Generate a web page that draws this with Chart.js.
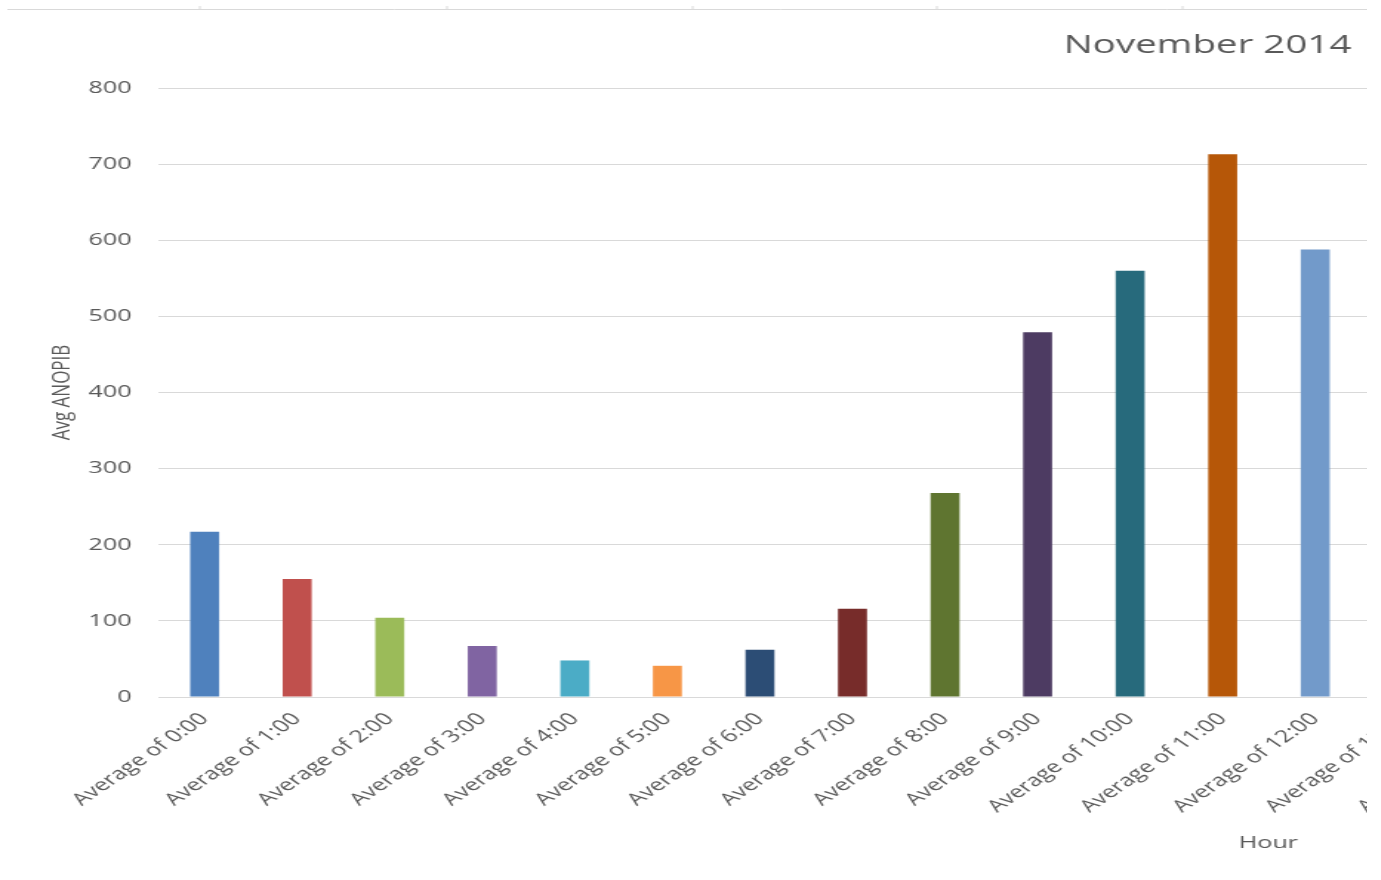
<!DOCTYPE html>
<html>
<head>
<meta charset="utf-8">
<script src="https://cdn.jsdelivr.net/npm/chart.js@4.4.1/dist/chart.umd.min.js"></script>
<style>
    html, body { margin: 0; padding: 0; background: #fff; overflow: hidden; }
    #wrap { position: absolute; left: 0; top: 0; width: 1367px; height: 880px; overflow: hidden; }
    #hourChart { display: block; }
</style>
</head>
<body>
<div id="wrap">
    <!-- chart is drawn narrow and widened by the inline style -->
    <canvas id="hourChart" width="1050" height="880" style="width:1554px;height:880px"></canvas>
</div>
<script>
// Hour categories shown along the x axis
const hours = ['0:00', '1:00', '2:00', '3:00', '4:00', '5:00', '6:00', '7:00',
    '8:00', '9:00', '10:00', '11:00', '12:00', '13:00', '14:00'];
const hourLabels = hours.map(h => 'Average of ' + h);

// Avg ANOPIB per hour (13:00 and later fall outside the frame)
const avgAnopib = [217, 155, 104, 67, 48, 41, 62, 116, 268, 479, 560, 713, 588, null, null];

// Excel-style palette, one colour per bar
const barColors = ['#4F81BD', '#C0504D', '#9BBB59', '#8064A2', '#4BACC6', '#F79646',
    '#2C4D75', '#772C2A', '#5F7530', '#4D3B62', '#276A7C', '#B65708', '#729ACA',
    '#CD7371', '#AFC97A'];

const yTicks = [0, 100, 200, 300, 400, 500, 600, 700, 800];

const chartTitle = 'November 2014';
const xTitle = 'Hour';
const yTitle = 'Avg ANOPIB';

const textGray = '#595959';
const gridGray = '#d9d9d9';
const fontFamily = "'Open Sans', 'Noto Sans', sans-serif";

// Draws the chart title, the x-axis title and the thin rule along the top
const extrasPlugin = {
    id: 'extras',
    afterDraw(chart) {
        const c = chart.ctx;
        c.save();
        c.strokeStyle = gridGray;
        c.lineWidth = 1;
        c.beginPath();
        c.moveTo(5, 9.5);
        c.lineTo(chart.width, 9.5);
        [135, 302, 468, 633, 799].forEach(x => {
            c.moveTo(x, 9.5);
            c.lineTo(x, 6);
        });
        c.stroke();

        c.fillStyle = textGray;
        c.font = '26px ' + fontFamily;
        c.textAlign = 'right';
        c.textBaseline = 'alphabetic';
        c.fillText(chartTitle, 913, 53);

        c.font = '17px ' + fontFamily;
        c.textAlign = 'center';
        c.fillText(xTitle, 857, 848);
        c.restore();
    }
};

const ctx = document.getElementById('hourChart').getContext('2d');
new Chart(ctx, {
    type: 'bar',
    data: {
        labels: hourLabels,
        datasets: [{
            label: yTitle,
            data: avgAnopib,
            backgroundColor: barColors,
            borderWidth: 0,
            categoryPercentage: 1,
            barPercentage: 0.313,
        }],
    },
    options: {
        responsive: false,
        devicePixelRatio: 1,
        animation: false,
        layout: {
            padding: { top: 88, left: 0, right: 5, bottom: 0 },
        },
        plugins: {
            legend: { display: false },
            tooltip: { enabled: false },
        },
        scales: {
            x: {
                grid: { display: false, drawTicks: false },
                border: { display: true, color: gridGray },
                ticks: {
                    autoSkip: false,
                    minRotation: 45,
                    maxRotation: 45,
                    padding: 12,
                    color: textGray,
                    font: { family: fontFamily, size: 17 },
                },
                afterFit(scale) { scale.height = 183; },
            },
            y: {
                min: 0,
                max: 800,
                afterBuildTicks(scale) {
                    scale.ticks = yTicks.map(v => ({ value: v }));
                },
                grid: { color: gridGray, drawTicks: false },
                border: { display: false },
                ticks: {
                    padding: 18,
                    color: textGray,
                    font: { family: fontFamily, size: 17 },
                },
                title: {
                    display: true,
                    text: yTitle,
                    color: textGray,
                    font: { family: fontFamily, size: 17 },
                    padding: { top: 32, bottom: 0 },
                },
                afterFit(scale) { scale.width = 107; },
            },
        },
    },
    plugins: [extrasPlugin],
});
</script>
</body>
</html>
